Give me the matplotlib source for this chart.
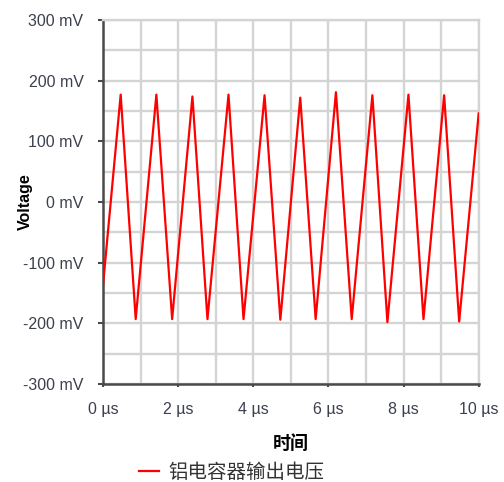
import matplotlib.pyplot as plt
from matplotlib.ticker import MultipleLocator, FuncFormatter

# waveform vertices: time in µs, voltage in mV
t_us = [0.0, 0.47, 0.87, 1.42, 1.84, 2.38, 2.78, 3.34, 3.74, 4.30, 4.72,
        5.25, 5.66, 6.20, 6.62, 7.17, 7.57, 8.13, 8.53, 9.08, 9.48, 10.0]
v_mv = [-137, 177, -193, 177, -193, 174, -193, 177, -193, 176, -194,
        172, -193, 181, -193, 176, -198, 177, -193, 176, -197, 146]

series_label = "铝电容器输出电压"
x_label = "时间"
y_label = "Voltage"

TICK_COLOR = "#3c404e"
GRID = "#d3d5d5"
SPINE = "#4a4a4a"
RED = "#ff0000"

CJK = ["Noto Sans CJK SC", "DejaVu Sans"]
plt.rcParams["font.family"] = ["Liberation Sans", "Noto Sans CJK SC", "DejaVu Sans"]

fig = plt.figure(figsize=(5.04, 4.82), dpi=100)
ax = fig.add_axes([0.2044, 0.2033, 0.7454, 0.7552])

ax.plot(t_us, v_mv, color=RED, lw=1.6, label=series_label, zorder=3)

ax.set_xlim(0, 10)
ax.set_ylim(-300, 300)

ax.xaxis.set_major_locator(MultipleLocator(2))
ax.xaxis.set_minor_locator(MultipleLocator(1))
ax.yaxis.set_major_locator(MultipleLocator(100))
ax.yaxis.set_minor_locator(MultipleLocator(50))
ax.xaxis.set_major_formatter(FuncFormatter(lambda v, p: f"{v:.0f} µs"))
ax.yaxis.set_major_formatter(FuncFormatter(lambda v, p: f"{v:.0f} mV"))

ax.grid(True, which="both", color=GRID, lw=1.7, zorder=0)
ax.set_axisbelow(True)

for s in ("top", "right"):
    ax.spines[s].set_color(GRID)
    ax.spines[s].set_linewidth(1.7)
for s in ("left", "bottom"):
    ax.spines[s].set_color(SPINE)
    ax.spines[s].set_linewidth(1.8)

ax.tick_params(which="minor", length=0)
ax.tick_params(axis="y", which="major", length=3.6, width=1.5, color=SPINE,
               labelsize=11.5, labelcolor=TICK_COLOR, pad=10.5)
ax.tick_params(axis="x", which="major", length=2.5, width=1.5, color=SPINE,
               labelsize=11.5, labelcolor=TICK_COLOR, pad=10.5)

ax.set_ylabel(y_label, fontsize=11.5, fontweight="bold")
ax.yaxis.set_label_coords(-0.187, 0.5)
ax.set_xlabel(x_label, fontsize=13, fontweight="bold", labelpad=12, family=CJK)

leg = fig.legend(loc="center", bbox_to_anchor=(0.46, 0.02), frameon=False,
                 handlelength=1.0, handletextpad=0.5,
                 prop={"family": CJK, "size": 14})
for txt in leg.get_texts():
    txt.set_color("#333333")

fig.savefig("out.png", dpi=100, facecolor="white")
